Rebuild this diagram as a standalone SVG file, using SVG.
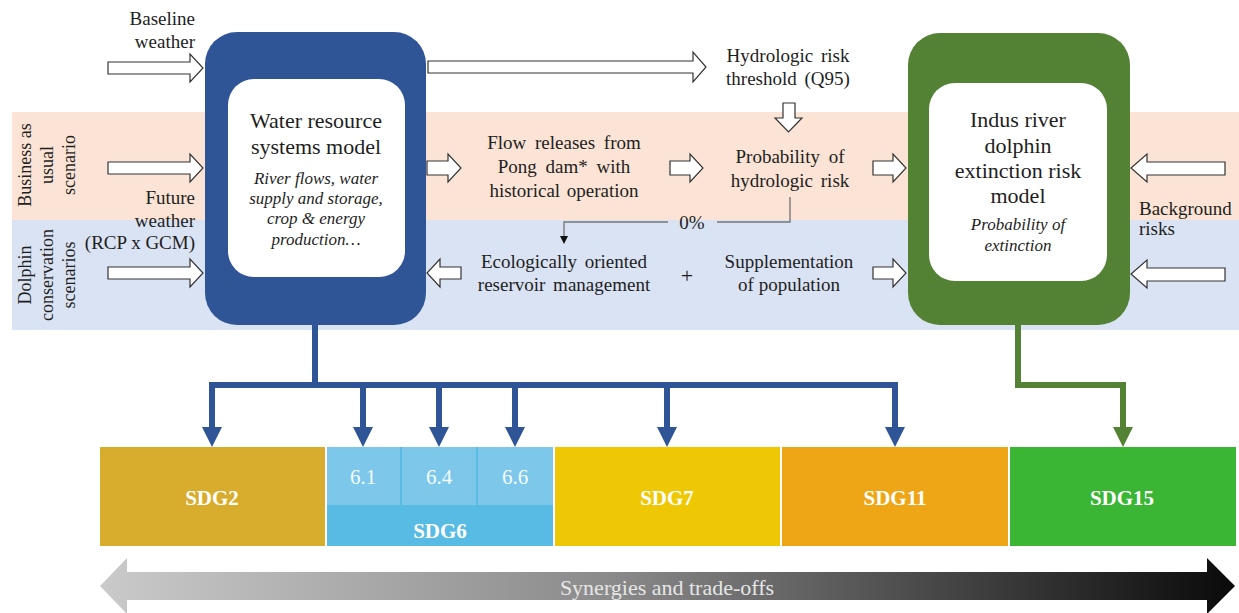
<svg xmlns="http://www.w3.org/2000/svg" width="1239" height="613" viewBox="0 0 1239 613">
<style>
.t{font-family:'Liberation Serif','DejaVu Serif',serif;fill:#1e1e1e;font-size:19px}
.c{text-anchor:middle}
.r{text-anchor:end}
.it{font-style:italic;font-size:17px}
.big{font-size:22px}
.v{font-size:18px}
.hollow{fill:#fff;stroke:#333;stroke-width:1.2;stroke-linejoin:miter}
.sdg{font-family:'Liberation Serif','DejaVu Serif',serif;font-weight:bold;font-size:21px;fill:#fff;text-anchor:middle}
.sub{font-family:'Liberation Serif','DejaVu Serif',serif;font-size:21px;fill:#f4fbff;text-anchor:middle}
.syn{font-family:'Liberation Serif','DejaVu Serif',serif;font-size:22px;fill:#e6e6e6;text-anchor:middle}
.bl{fill:none;stroke:#2F5597;stroke-width:6}
.gl{fill:none;stroke:#548235;stroke-width:6}
</style>
<defs>
<marker id="ab" viewBox="0 0 20 20" refX="0" refY="10" markerWidth="20" markerHeight="20" markerUnits="userSpaceOnUse" orient="auto"><path d="M0,0 L20,10 L0,20 z" fill="#2F5597"/></marker>
<marker id="ag" viewBox="0 0 20 20" refX="0" refY="10" markerWidth="20" markerHeight="20" markerUnits="userSpaceOnUse" orient="auto"><path d="M0,0 L20,10 L0,20 z" fill="#548235"/></marker>
<marker id="as" viewBox="0 0 8 8" refX="0" refY="4" markerWidth="8" markerHeight="8" markerUnits="userSpaceOnUse" orient="auto"><path d="M0,0 L8,4 L0,8 z" fill="#111"/></marker>
<linearGradient id="gr" x1="0" y1="0" x2="1" y2="0">
<stop offset="0" stop-color="#cacaca"/>
<stop offset="0.45" stop-color="#8a8a8a"/>
<stop offset="1" stop-color="#0a0a0a"/>
</linearGradient>
</defs>
<rect width="1239" height="613" fill="#fff"/>
<!-- bands -->
<rect x="12" y="112" width="1227" height="108" fill="#FBE4D5"/>
<rect x="12" y="220" width="1227" height="110" fill="#DAE3F3"/>
<text class="t v" transform="translate(31,165) rotate(-90)" text-anchor="middle">Business as</text>
<text class="t v" transform="translate(53,165) rotate(-90)" text-anchor="middle">usual</text>
<text class="t v" transform="translate(75,165) rotate(-90)" text-anchor="middle">scenario</text>
<text class="t v" transform="translate(31,275) rotate(-90)" text-anchor="middle">Dolphin</text>
<text class="t v" transform="translate(53,275) rotate(-90)" text-anchor="middle">conservation</text>
<text class="t v" transform="translate(75,275) rotate(-90)" text-anchor="middle">scenarios</text>
<!-- left inputs -->
<g id="baseline-weather">
<text class="t r" x="195" y="25">Baseline</text>
<text class="t r" x="195" y="48">weather</text>
</g>
<g id="future-weather">
<text class="t r" x="195" y="204">Future</text>
<text class="t r" x="195" y="227">weather</text>
<text class="t r" x="195" y="249">(RCP x GCM)</text>
</g>
<!-- nodes -->
<g id="water-model">
<rect x="205" y="32" width="221" height="293" rx="32" fill="#2F5597"/>
<rect x="228" y="79" width="177" height="198" rx="26" fill="#fff"/>
<text class="t c big" x="316" y="128">Water resource</text>
<text class="t c big" x="316" y="154">systems model</text>
<text class="t c it" x="316" y="184">River flows, water</text>
<text class="t c it" x="316" y="204">supply and storage,</text>
<text class="t c it" x="316" y="224">crop &amp; energy</text>
<text class="t c it" x="316" y="245">production…</text>
</g>
<g id="dolphin-model">
<rect x="908" y="33" width="222" height="292" rx="32" fill="#548235"/>
<rect x="929" y="83" width="178" height="198" rx="26" fill="#fff"/>
<text class="t c big" x="1018" y="127">Indus river</text>
<text class="t c big" x="1018" y="153">dolphin</text>
<text class="t c big" x="1018" y="178">extinction risk</text>
<text class="t c big" x="1018" y="203">model</text>
<text class="t c it" x="1018" y="230">Probability of</text>
<text class="t c it" x="1018" y="251">extinction</text>
</g>
<g id="threshold">
<text class="t c" x="788" y="62" word-spacing="3">Hydrologic risk</text>
<text class="t c" x="788" y="85" word-spacing="3">threshold (Q95)</text>
</g>
<g id="flow-releases">
<text class="t c" x="564" y="149" word-spacing="4">Flow releases from</text>
<text class="t c" x="564" y="173" word-spacing="4">Pong dam* with</text>
<text class="t c" x="564" y="197" word-spacing="2">historical operation</text>
</g>
<g id="probability">
<text class="t c" x="790" y="163" word-spacing="4">Probability of</text>
<text class="t c" x="790" y="187" word-spacing="3">hydrologic risk</text>
</g>
<g id="eco-management">
<text class="t c" x="564" y="268" word-spacing="3">Ecologically oriented</text>
<text class="t c" x="564" y="291" word-spacing="3">reservoir management</text>
</g>
<text class="t c big" x="687" y="283">+</text>
<g id="supplementation">
<text class="t c" x="789" y="268">Supplementation</text>
<text class="t c" x="789" y="291">of population</text>
</g>
<g id="background-risks">
<text class="t" x="1139" y="215">Background</text>
<text class="t" x="1139" y="235">risks</text>
</g>
<!-- connectors -->
<g id="connectors">
<polygon class="hollow" points="108,62 190,62 190,54 203,68 190,82 190,74 108,74"/>
<polygon class="hollow" points="108,162 190,162 190,154 203,168 190,182 190,174 108,174"/>
<polygon class="hollow" points="108,267 190,267 190,259 203,273 190,287 190,279 108,279"/>
<polygon class="hollow" points="428,61 693,61 693,52 706,67 693,82 693,73 428,73"/>
<polygon class="hollow" points="783,103 795,103 795,118 802,118 788.5,132 775,118 783,118"/>
<polygon class="hollow" points="427,161 448,161 448,154 461,168 448,182 448,175 427,175"/>
<polygon class="hollow" points="670,161 690,161 690,154 703,168 690,182 690,175 670,175"/>
<polygon class="hollow" points="873,161 893,161 893,154 906,168 893,182 893,175 873,175"/>
<polygon class="hollow" points="461,267 440,267 440,259 427,273 440,287 440,279 461,279"/>
<polygon class="hollow" points="873,267 893,267 893,259 906,273 893,287 893,279 873,279"/>
<polygon class="hollow" points="1225,162 1147,162 1147,154 1131,168 1147,182 1147,175 1225,175"/>
<polygon class="hollow" points="1225,268 1147,268 1147,260 1131,274 1147,288 1147,281 1225,281"/>
<path d="M790,197 V222 H717 M668,222 H564 V236" fill="none" stroke="#777" stroke-width="1.4" marker-end="url(#as)"/>
<text class="t c" x="692" y="229">0%</text>
<path class="bl" d="M315,325 V385"/>
<path class="bl" d="M209,385 H898"/>
<path class="bl" d="M212,385 V427" marker-end="url(#ab)"/>
<path class="bl" d="M363,385 V427" marker-end="url(#ab)"/>
<path class="bl" d="M439,385 V427" marker-end="url(#ab)"/>
<path class="bl" d="M515,385 V427" marker-end="url(#ab)"/>
<path class="bl" d="M667,385 V427" marker-end="url(#ab)"/>
<path class="bl" d="M895,385 V427" marker-end="url(#ab)"/>
<path class="gl" d="M1018,325 V385 H1123 V427" marker-end="url(#ag)"/>
</g>
<!-- SDGs -->
<g id="sdg2">
<rect x="100" y="447" width="225" height="99" fill="#D8AC2C"/>
<text class="sdg" x="212" y="505">SDG2</text>
</g>
<g id="sdg6">
<rect x="327" y="447" width="226" height="99" fill="#58BBE4"/>
<rect x="327" y="447" width="73" height="58" fill="#7DC8EA"/>
<rect x="402" y="447" width="74" height="58" fill="#7DC8EA"/>
<rect x="478" y="447" width="75" height="58" fill="#7DC8EA"/>
<text class="sub" x="363" y="484">6.1</text>
<text class="sub" x="439" y="484">6.4</text>
<text class="sub" x="515" y="484">6.6</text>
<text class="sdg" x="440" y="538">SDG6</text>
</g>
<g id="sdg7">
<rect x="555" y="447" width="225" height="99" fill="#EFC805"/>
<text class="sdg" x="667" y="505">SDG7</text>
</g>
<g id="sdg11">
<rect x="782" y="447" width="226" height="99" fill="#EFA616"/>
<text class="sdg" x="895" y="505">SDG11</text>
</g>
<g id="sdg15">
<rect x="1010" y="447" width="226" height="99" fill="#3AB534"/>
<text class="sdg" x="1122" y="505">SDG15</text>
</g>
<g id="synergies">
<polygon points="100,586 127,558 127,572 1207,572 1207,558 1235,586 1207,614 1207,600 127,600 127,614" fill="url(#gr)"/>
<text class="syn" x="667" y="595">Synergies and trade-offs</text>
</g>
</svg>
